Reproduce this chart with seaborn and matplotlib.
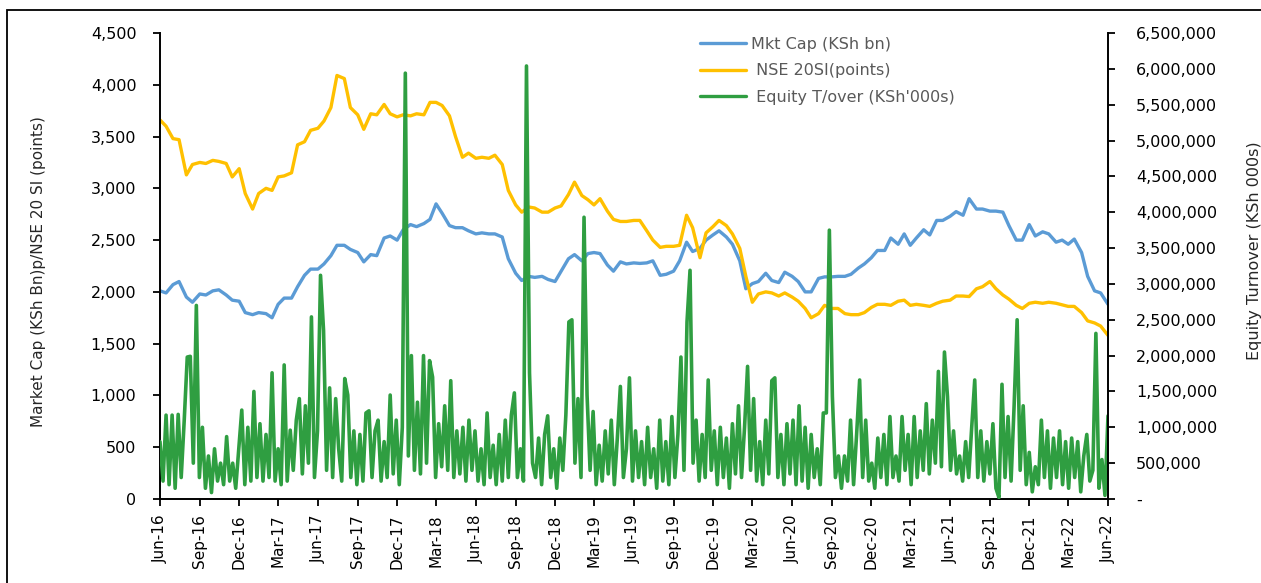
import numpy as np
import pandas as pd
import matplotlib
matplotlib.use("Agg")
import matplotlib.pyplot as plt
import matplotlib.dates as mdates
from matplotlib.ticker import FuncFormatter, MultipleLocator
from matplotlib.patches import Rectangle
from matplotlib.lines import Line2D
import seaborn as sns

# Market cap (KSh bn), twice a month (1st / 15th), Jun-16 .. Jun-22
mkt_cap = [
    2010, 1990, 2070, 2100, 1950, 1900, 1980, 1970, 2010, 2020, 1970, 1920,
    1910, 1800, 1780, 1800, 1790, 1750, 1880, 1940, 1940, 2050, 2160, 2220,
    2220, 2270, 2350, 2450, 2450, 2410, 2380, 2290, 2360, 2350, 2520, 2540,
    2500, 2600, 2650, 2630, 2660, 2700, 2850, 2760, 2640, 2620, 2620, 2590,
    2560, 2570, 2560, 2560, 2530, 2320, 2180, 2110, 2150, 2140, 2150, 2120,
    2100, 2200, 2320, 2360, 2300, 2370, 2380, 2370, 2260, 2200, 2290, 2270,
    2280, 2275, 2280, 2300, 2160, 2170, 2200, 2300, 2480, 2390, 2420, 2500,
    2550, 2590, 2530, 2460, 2300, 2030, 2080, 2100, 2180, 2110, 2090, 2190,
    2150, 2100, 2000, 2000, 2130, 2145, 2145, 2150, 2150, 2170, 2230, 2270,
    2330, 2400, 2400, 2520, 2460, 2560, 2450, 2520, 2600, 2550, 2690, 2690,
    2730, 2775, 2740, 2900, 2800, 2800, 2780, 2780, 2770, 2640, 2500, 2500,
    2650, 2540, 2580, 2560, 2480, 2500, 2460, 2510, 2380, 2150, 2010, 1990,
    1880,
]

# NSE 20 share index (points), same dates
nse20 = [
    3660, 3600, 3480, 3470, 3130, 3230, 3250, 3240, 3270, 3260, 3240, 3110,
    3190, 2950, 2800, 2950, 3000, 2980, 3110, 3120, 3150, 3420, 3450, 3560,
    3580, 3650, 3780, 4090, 4060, 3780, 3710, 3570, 3720, 3710, 3810, 3720,
    3690, 3710, 3700, 3720, 3710, 3830, 3830, 3800, 3700, 3500, 3300, 3340,
    3290, 3300, 3290, 3320, 3230, 2980, 2840, 2770, 2820, 2810, 2770, 2770,
    2810, 2830, 2940, 3060, 2930, 2890, 2840, 2900, 2780, 2700, 2680, 2680,
    2690, 2690, 2590, 2500, 2430, 2440, 2440, 2450, 2740, 2620, 2330, 2570,
    2630, 2690, 2640, 2560, 2420, 2150, 1900, 1980, 2000, 1990, 1960, 1990,
    1950, 1910, 1840, 1750, 1790, 1870, 1840, 1840, 1790, 1780, 1780, 1800,
    1850, 1880, 1880, 1870, 1910, 1920, 1870, 1880, 1870, 1860, 1890, 1910,
    1920, 1960, 1960, 1955, 2030, 2050, 2100, 2030, 1970, 1930, 1870, 1840,
    1890, 1900, 1890, 1900, 1890, 1875, 1860, 1860, 1800, 1720, 1700, 1670,
    1580,
]

# equity turnover, weekly, in thousands of KSh'000s
turnover_k = [
    800, 250, 1170, 200, 1170, 150, 1180, 300, 1100, 1980, 1990, 500, 2700,
    300, 1000, 150, 600, 90, 700, 250, 500, 200, 870, 250, 500, 150,
    700, 1240, 200, 1000, 250, 1500, 300, 1050, 250, 900, 300, 1760, 250,
    700, 200, 1870, 250, 960, 400, 1100, 1400, 350, 1300, 500, 2540, 300,
    950, 3120, 2350, 400, 1550, 300, 1400, 700, 250, 1680, 1450, 300, 950,
    200, 900, 250, 1200, 1230, 300, 950, 1100, 250, 800, 300, 1450, 350,
    1100, 200, 1000, 5940, 600, 2000, 400, 1350, 350, 2000, 500, 1930, 1700,
    300, 1050, 450, 1300, 400, 1650, 300, 950, 350, 1000, 250, 1100, 400,
    950, 250, 700, 200, 1200, 300, 750, 200, 900, 250, 1100, 300, 1170,
    1480, 300, 700, 250, 6040, 1760, 500, 300, 850, 200, 900, 1160, 300,
    700, 150, 850, 400, 1170, 2470, 2500, 500, 1400, 300, 3930, 1450, 400,
    1220, 200, 750, 250, 950, 350, 1100, 200, 850, 1570, 300, 700, 1690,
    250, 950, 300, 800, 200, 1000, 300, 700, 150, 1100, 250, 800, 200,
    1150, 300, 900, 1980, 400, 2470, 3190, 500, 1100, 250, 900, 300, 1660,
    400, 950, 200, 1000, 300, 850, 150, 1050, 350, 1300, 300, 1000, 1850,
    400, 1400, 250, 800, 200, 1100, 350, 1650, 1690, 300, 900, 200, 1050,
    350, 1100, 200, 1300, 250, 1000, 150, 900, 300, 700, 200, 1200, 1200,
    3750, 1430, 300, 600, 150, 600, 250, 1100, 200, 900, 1660, 300, 1100,
    250, 500, 150, 850, 300, 900, 200, 1150, 300, 600, 250, 1150, 400,
    900, 200, 1150, 300, 950, 400, 1330, 350, 1100, 500, 1780, 450, 2050,
    1430, 400, 950, 350, 600, 250, 800, 300, 1000, 1660, 300, 950, 250,
    800, 350, 1050, 150, 20, 1600, 300, 1150, 250, 1300, 2500, 400, 1300,
    200, 650, 100, 450, 200, 1100, 300, 950, 150, 850, 300, 950, 200,
    800, 150, 850, 300, 800, 100, 600, 900, 250, 400, 2310, 150, 550,
    50, 1160, 400,
]

BLUE = "#5B9BD5"
GOLD = "#FFC000"
GREEN = "#2F9E41"

line_dates = pd.date_range("2016-06-01", "2022-06-01", freq="SMS")
week_dates = pd.date_range("2016-06-01", periods=len(turnover_k), freq="7D")

lines = pd.DataFrame({"date": line_dates, "mkt": mkt_cap, "nse": nse20})
turn = pd.DataFrame({"date": week_dates, "turnover": np.array(turnover_k) * 1000})

sns.set_style("white")
plt.rcParams["font.family"] = ["DejaVu Sans"]

W, H = 1261, 583
fig = plt.figure(figsize=(W / 100, H / 100), dpi=100)
ax = fig.add_axes([160 / W, 84 / H, 948 / W, 466 / H])
ax2 = ax.twinx()

sns.lineplot(data=lines, x="date", y="mkt", ax=ax, color=BLUE, lw=2.4, legend=False)
sns.lineplot(data=lines, x="date", y="nse", ax=ax, color=GOLD, lw=2.4, legend=False)
sns.lineplot(data=turn, x="date", y="turnover", ax=ax2, color=GREEN, lw=2.6, legend=False)

ax.set_xlim(pd.Timestamp("2016-06-01"), pd.Timestamp("2022-06-01"))
ax.set_ylim(0, 4500)
ax2.set_ylim(0, 6500000)
ax.yaxis.set_major_locator(MultipleLocator(500))
ax2.yaxis.set_major_locator(MultipleLocator(500000))
ax.yaxis.set_major_formatter(FuncFormatter(lambda v, p: f"{v:,.0f}"))
ax2.yaxis.set_major_formatter(FuncFormatter(lambda v, p: "-" if v == 0 else f"{v:,.0f}"))
ax.xaxis.set_major_locator(mdates.MonthLocator(bymonth=[3, 6, 9, 12], bymonthday=1))
ax.xaxis.set_major_formatter(mdates.DateFormatter("%b-%y"))

for a in (ax, ax2):
    a.set_xlabel("")
    a.set_ylabel("")
    a.spines["top"].set_visible(False)
    for s in a.spines.values():
        s.set_color("black")
        s.set_linewidth(1.4)
ax.spines["right"].set_visible(False)
ax2.spines["left"].set_visible(False)
ax2.spines["bottom"].set_visible(False)

ax.tick_params(axis="y", left=True, direction="out", length=5, width=1.3, pad=12, labelsize=11.5, colors="black")
ax.tick_params(axis="x", bottom=True, direction="out", length=5, width=1.3, pad=6, labelsize=11, labelrotation=90, colors="black")
ax2.tick_params(axis="y", right=True, direction="out", length=5, width=1.3, pad=15, labelsize=11.5, colors="black")

fig.text(31 / W, 1 - 272 / H, "Market Cap (KSh Bn)p/NSE 20 SI (points)", rotation=90,
         ha="left", va="center", fontsize=11, family=["Liberation Sans Narrow", "DejaVu Sans"])
fig.text(1247 / W, 1 - 251 / H, "Equity Turnover (KSh 000s)", rotation=90,
         ha="left", va="center", fontsize=11.5, family=["Liberation Sans Narrow", "DejaVu Sans"])

handles = [Line2D([], [], color=BLUE, lw=2.4), Line2D([], [], color=GOLD, lw=2.4),
           Line2D([], [], color=GREEN, lw=2.4)]
labels = ["Mkt Cap (KSh bn)", " NSE 20SI(points)", " Equity T/over (KSh'000s)"]
ax2.legend(handles, labels, loc="upper left", bbox_to_anchor=(700 / W, 1 - 37 / H),
           bbox_transform=fig.transFigure, frameon=False, fontsize=11.5, handlelength=2.9,
           handletextpad=0.3, labelspacing=0.72, borderpad=0, borderaxespad=0,
           labelcolor="#595959")

fig.add_artist(Rectangle((7 / W, -0.1), 1.2, 1.1 - 10.5 / H, transform=fig.transFigure,
                         fill=False, edgecolor="black", lw=1.3))

fig.savefig("out.png", dpi=100)
